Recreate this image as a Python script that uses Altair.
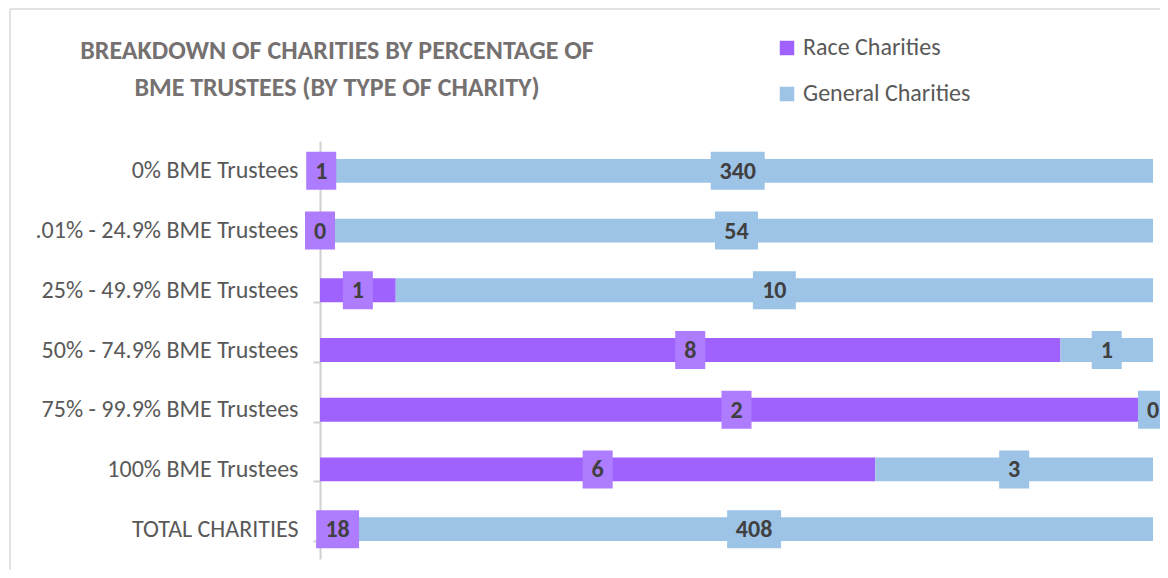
import altair as alt
import pandas as pd

categories = ["0% BME Trustees", ".01%  - 24.9% BME Trustees", "25% - 49.9% BME Trustees",
              "50% - 74.9% BME Trustees", "75%  - 99.9% BME Trustees", "100% BME Trustees",
              "TOTAL CHARITIES"]
race = [1, 0, 1, 8, 2, 6, 18]
general = [340, 54, 10, 1, 0, 3, 408]
series_names = ["Race Charities", "General Charities"]
title_lines = ["BREAKDOWN OF CHARITIES BY PERCENTAGE OF", "BME TRUSTEES (BY TYPE OF CHARITY)"]

rows = []
for c, r, g in zip(categories, race, general):
    rows.append({"category": c, "series": series_names[0], "value": r, "order": 0})
    rows.append({"category": c, "series": series_names[1], "value": g, "order": 1})
df = pd.DataFrame(rows)

FONT = "Carlito, Open Sans"
bar_colors = ["#A062FF", "#9DC3E6"]
box_colors = ["#AE7CFF", "#9DC3E6"]

base = alt.Chart(df).transform_stack(
    stack="value", groupby=["category"], as_=["x0", "x1"], offset="normalize",
    sort=[alt.SortField("order", order="ascending")]
).transform_calculate(
    mid="(datum.x0 + datum.x1) / 2",
    digits="length(toString(datum.value))"
)

yenc = alt.Y("category:N", sort=categories,
             scale=alt.Scale(paddingInner=0.6, paddingOuter=0.3),
             axis=alt.Axis(title=None, labelFontSize=24, labelColor="#595959", labelFont=FONT,
                           domainColor="#D0D0D0", tickColor="#D0D0D0", tickSize=7,
                           tickBand="extent", labelPadding=15, domainWidth=2, tickWidth=2,
                           labelLimit=400))

bars = base.mark_bar().encode(
    y=yenc,
    x=alt.X("x0:Q", scale=alt.Scale(domain=[0, 1]), axis=None),
    x2="x1:Q",
    color=alt.Color("series:N", scale=alt.Scale(domain=series_names, range=bar_colors),
                    legend=alt.Legend(title=None, orient="none", legendX=455, legendY=-105,
                                      symbolType="square", symbolSize=210, labelFontSize=24,
                                      labelColor="#595959", labelFont=FONT, rowPadding=22,
                                      labelOffset=4, padding=0, symbolStrokeWidth=0,
                                      labelLimit=400)),
)

paths = ["M-0.79,-1L0.79,-1L0.79,1L-0.79,1Z",
         "M-1.13,-1L1.13,-1L1.13,1L-1.13,1Z",
         "M-1.42,-1L1.42,-1L1.42,1L-1.42,1Z"]

boxes = base.mark_point(filled=True, strokeWidth=0, opacity=1, size=1444).encode(
    y=alt.Y("category:N", sort=categories),
    x=alt.X("mid:Q"),
    shape=alt.Shape("digits:N", scale=alt.Scale(domain=[1, 2, 3], range=paths), legend=None),
    fill=alt.Fill("series:N", scale=alt.Scale(domain=series_names, range=box_colors), legend=None),
)

labels = base.mark_text(fontWeight="bold", fontSize=24, color="#404040", font=FONT,
                        baseline="middle", align="center", dy=1).encode(
    y=alt.Y("category:N", sort=categories),
    x=alt.X("mid:Q"),
    text=alt.Text("value:Q"),
)

one = pd.DataFrame({"a": [0]})
t1 = alt.Chart(one).mark_text(text=title_lines[0], font=FONT, fontSize=26, fontWeight="bold",
                              color="#767171", align="center", baseline="middle").encode(
    x=alt.value(17), y=alt.value(-90))
t2 = alt.Chart(one).mark_text(text=title_lines[1], font=FONT, fontSize=26, fontWeight="bold",
                              color="#767171", align="center", baseline="middle").encode(
    x=alt.value(17), y=alt.value(-53))

border_top = alt.Chart(one).mark_rule(color="#D9D9D9", strokeWidth=1.5).encode(
    x=alt.value(-310), x2=alt.value(870), y=alt.value(-132))
border_left = alt.Chart(one).mark_rule(color="#D9D9D9", strokeWidth=1.5).encode(
    x=alt.value(-310), y=alt.value(-132), y2=alt.value(500))

chart = alt.layer(border_top, border_left, bars, boxes, labels, t1, t2).properties(
    width=833, height=418,
    autosize=alt.AutoSizeParams(type="none"),
    padding={"left": 312, "top": 133, "right": 7, "bottom": 11},
    background="white",
).configure_view(strokeWidth=0)

chart.save("out.html", embed_options={"renderer": "svg", "actions": False})
